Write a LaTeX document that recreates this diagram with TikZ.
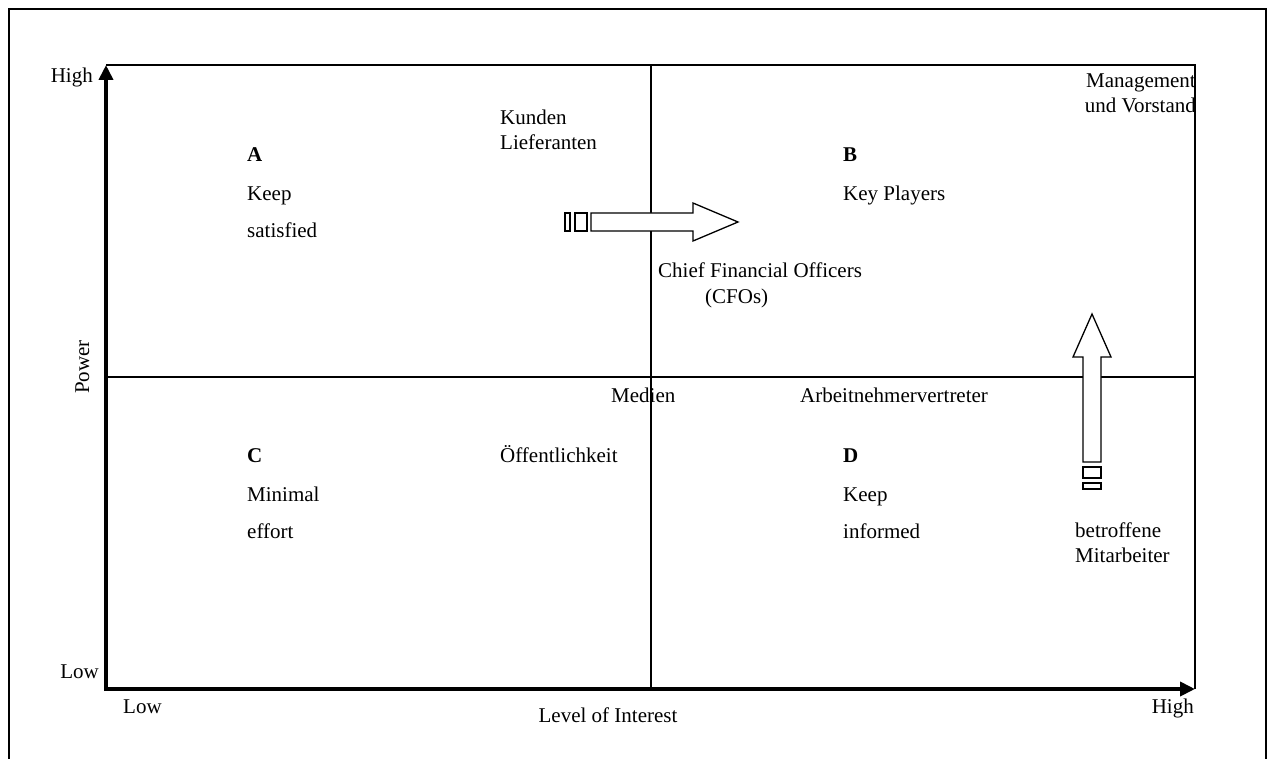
\documentclass[tikz,border=0pt]{standalone}
\usepackage{fontspec}
\setmainfont{Liberation Serif}
\usetikzlibrary{arrows.meta}
\begin{document}
\begin{tikzpicture}[x=1pt,y=-1pt,
  txt/.style={inner sep=0pt,font=\fontsize{21}{25}\selectfont},
  lbl/.style={txt,anchor=base west},
  lblr/.style={txt,anchor=base east},
  lblc/.style={txt,anchor=base},
  thin line/.style={line width=1.3pt},
  axis/.style={line width=4.8pt,-{Triangle[length=15pt,width=14pt]}},
  block/.style={draw,line width=1.3pt,fill=white,line join=miter}]
\useasboundingbox (0,0) rectangle (1268,759);

% outer frame (open at the bottom)
\draw[line width=2pt] (9,770) -- (9,9) -- (1266,9) -- (1266,770);

% grid coordinates
\coordinate (o) at (106,689);
\coordinate (tl) at (106,65);
\coordinate (tr) at (1195,65);
\coordinate (br) at (1195,689);
\coordinate (mt) at (651,65);
\coordinate (mb) at (651,689);
\coordinate (ml) at (106,377);
\coordinate (mr) at (1195,377);

% quadrant lines
\draw[thin line] (tl) -- (tr) -- (br);
\draw[thin line] (mt) -- (mb);
\draw[thin line] (ml) -- (mr);

% axes
\draw[axis] (106,691) -- (tl);
\draw[axis] (104,689) -- (br);

% axis labels
\node[lblr] (yhigh) at (93,83) {High};
\node[lblr] (ylow) at (99,678) {Low};
\node[lbl] (xlow) at (123,713) {Low};
\node[lblr] (xhigh) at (1194,713) {High};
\node[lblc] (xlabel) at (608,722) {Level of Interest};
\node[txt,anchor=base,rotate=90] (ylabel) at (89,367) {Power};

% quadrant A
\node[lbl] (qa) at (247,162) {\textbf{A}};
\node[lbl] (qa1) at (247,201) {Keep};
\node[lbl] (qa2) at (247,238) {satisfied};
% quadrant B
\node[lbl] (qb) at (843,162) {\textbf{B}};
\node[lbl] (qb1) at (843,201) {Key Players};
% quadrant C
\node[lbl] (qc) at (247,462) {\textbf{C}};
\node[lbl] (qc1) at (247,501) {Minimal};
\node[lbl] (qc2) at (247,538) {effort};
% quadrant D
\node[lbl] (qd) at (843,462) {\textbf{D}};
\node[lbl] (qd1) at (843,501) {Keep};
\node[lbl] (qd2) at (843,538) {informed};

% stakeholders
\node[lbl] (kunden) at (500,125) {Kunden};
\node[lbl] (liefer) at (500,150) {Lieferanten};
\node[lblr] (mgmt) at (1196,88) {Management};
\node[lblr] (vorst) at (1196,113) {und Vorstand};
\node[lbl] (cfo) at (658,277) {Chief Financial Officers};
\node[lbl] (cfo2) at (705,303) {(CFOs)};
\node[lbl] (medien) at (611,402) {Medien};
\node[lbl] (arbn) at (800,402) {Arbeitnehmervertreter};
\node[lbl] (oeff) at (500,462) {Öffentlichkeit};
\node[lbl] (betr) at (1075,537) {betroffene};
\node[lbl] (mitar) at (1075,562) {Mitarbeiter};

% block arrow to the right
\draw[block] (565,213) rectangle (570,231);
\draw[block] (575,213) rectangle (587,231);
\draw[block] (591,213) -- (693,213) -- (693,203) -- (738,222) -- (693,241) -- (693,231) -- (591,231) -- cycle;

% block arrow upwards
\draw[block] (1083,467) rectangle (1101,478);
\draw[block] (1083,483) rectangle (1101,489);
\draw[block] (1083,462) -- (1083,357) -- (1073,357) -- (1092,314) -- (1111,357) -- (1101,357) -- (1101,462) -- cycle;
\end{tikzpicture}
\end{document}
